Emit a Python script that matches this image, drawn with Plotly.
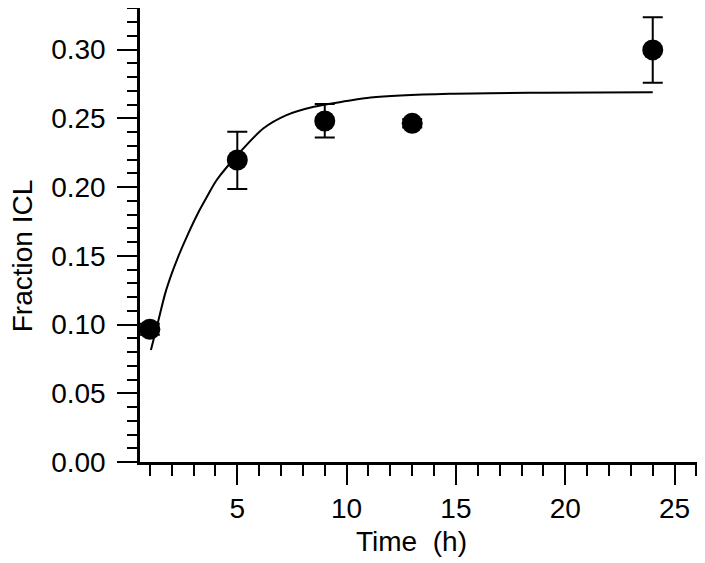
import plotly.graph_objects as go

# Measured data (time in hours, fraction ICL)
time_h = [1, 5, 9, 13, 24]
fraction_icl = [0.0966, 0.2197, 0.2481, 0.2464, 0.2998]
err_up = [0.004, 0.0206, 0.0124, 0.003, 0.0238]
err_down = [0.004, 0.0211, 0.0121, 0.003, 0.0238]

# Fitted curve
fit_t = [1.05, 1.4, 1.7, 2.0, 2.3, 2.75, 3.2, 3.65, 4.05, 5.1, 6.2, 7.25,
         8.5, 10.0, 11.1, 14.7, 19.0, 24.0]
fit_y = [0.0815, 0.1035, 0.1225, 0.137, 0.1495, 0.166, 0.181, 0.194, 0.205,
         0.225, 0.2428, 0.2524, 0.2585, 0.2626, 0.2652, 0.2679, 0.2687, 0.269]

FONT = "Liberation Sans, Arial, sans-serif"

fig = go.Figure()

fig.add_trace(go.Scatter(
    x=fit_t, y=fit_y, mode="lines",
    line=dict(color="black", width=2, shape="spline", smoothing=0.8),
    name="Fit", showlegend=False, hoverinfo="skip",
))

fig.add_trace(go.Scatter(
    x=time_h, y=fraction_icl, mode="markers",
    marker=dict(color="black", size=21),
    error_y=dict(type="data", symmetric=False, array=err_up, arrayminus=err_down,
                 color="black", thickness=2, width=10),
    name="Data", showlegend=False,
))

axis_common = dict(
    showgrid=False, zeroline=False,
    showline=True, linecolor="black", linewidth=2.5,
    ticks="outside", ticklen=20, tickwidth=2, tickcolor="black",
    tickfont=dict(family=FONT, size=28, color="black"),
)

fig.update_xaxes(
    range=[0.55, 26.07], tick0=0, dtick=5,
    minor=dict(dtick=1, tick0=0, ticks="outside", ticklen=11, tickwidth=2, tickcolor="black"),
    **axis_common,
)
fig.update_yaxes(
    range=[0, 0.3303], tick0=0, dtick=0.05, tickformat=".2f", ticklabelstandoff=6,
    minor=dict(dtick=0.01, tick0=0, ticks="outside", ticklen=10, tickwidth=2, tickcolor="black"),
    **axis_common,
)

fig.add_annotation(
    text="Time\u00a0\u00a0(h)", xref="paper", yref="paper",
    x=0.487, y=-0.175, xanchor="center", yanchor="middle", showarrow=False,
    font=dict(family=FONT, size=28, color="black"),
)
fig.add_annotation(
    text="Fraction ICL", xref="paper", yref="paper", textangle=-90,
    x=-0.21, y=0.455, xanchor="center", yanchor="middle", showarrow=False,
    font=dict(family=FONT, size=28, color="black"),
)

# page body adds an 8px margin, so the figure is 8px smaller than the window
fig.update_layout(
    width=697, height=555,
    margin=dict(l=132, r=7, t=0, b=101),
    paper_bgcolor="white", plot_bgcolor="white",
    font=dict(family=FONT, size=28, color="black"),
)

fig.write_html("out.html")
